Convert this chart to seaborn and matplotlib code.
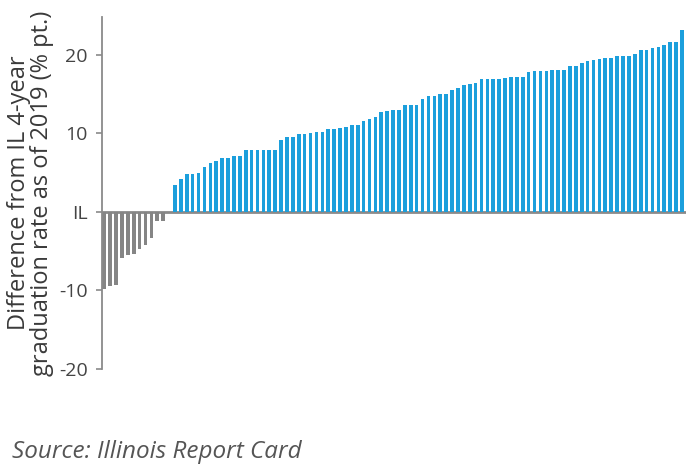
import pandas as pd
import seaborn as sns
import matplotlib.pyplot as plt

# Difference from IL 4-year graduation rate (pct. points), sorted
below_il = [-9.8, -9.4, -9.3, -5.9, -5.5, -5.3, -4.7, -4.2, -3.3, -1.1, -1.1, 0.0]
above_il = [3.4, 4.2, 4.8, 4.8, 4.9, 5.7, 6.2, 6.5, 6.8, 6.8,
            7.1, 7.1, 7.9, 7.9, 7.9, 7.9, 7.9, 7.9,
            9.1, 9.5, 9.5, 9.9, 9.9, 10.0, 10.2, 10.2, 10.5, 10.5,
            10.7, 10.8, 11.0, 11.0, 11.6, 11.8, 12.1, 12.7, 12.9, 13.0,
            13.0, 13.6, 13.6, 13.6, 14.4, 14.7, 14.7, 15.0, 15.0, 15.5,
            15.8, 16.1, 16.3, 16.4, 16.9, 16.9, 16.9, 16.9,
            17.0, 17.2, 17.2, 17.2, 17.8, 17.9, 17.9, 17.9, 18.1, 18.1,
            18.1, 18.6, 18.6, 18.9, 19.2, 19.3, 19.5, 19.6, 19.6, 19.8,
            19.9, 19.9, 20.1, 20.6, 20.6, 20.9, 21.0, 21.2, 21.6, 21.6,
            23.1]
tick_values = [-20, -10, 0, 10, 20]
tick_labels = ["-20", "-10", "IL", "10", "20"]

diff = below_il + above_il
df = pd.DataFrame({
    "school": range(len(diff)),
    "diff": diff,
    "group": ["below"] * len(below_il) + ["above"] * len(above_il),
})

sns.set_style("white")
plt.rcParams["font.family"] = ["Open Sans", "DejaVu Sans"]

fig = plt.figure(figsize=(6.93, 4.66), dpi=100)
ax = fig.add_axes([0.147, 0.208, 0.843, 0.7555])

ax.axhline(0, color="#8a8a8a", lw=2, zorder=1)
sns.barplot(data=df, x="school", y="diff", hue="group",
            palette={"below": "#858585", "above": "#1c9fdc"},
            saturation=1, linewidth=0, dodge=False, width=0.62,
            legend=False, ax=ax, zorder=2)

ax.set_xlim(-0.4, len(diff) - 0.3)
ax.set_ylim(-20, 24.8)
ax.set_yticks(tick_values)
ax.set_yticklabels(tick_labels)
ax.set_xticks([])
ax.set_xlabel("")
ax.set_ylabel("Difference from IL 4-year\ngraduation rate as of 2019 (% pt.)",
              fontsize=17, color="#3a3a3a", labelpad=4, linespacing=0.95)

for side in ["top", "right", "bottom"]:
    ax.spines[side].set_visible(False)
ax.spines["left"].set_color("#8a8a8a")
ax.spines["left"].set_linewidth(1.3)
ax.tick_params(axis="y", left=True, length=4, width=1.2, color="#8a8a8a",
               labelsize=14, labelcolor="#444444", pad=6)

fig.text(0.017, 0.018, "Source: Illinois Report Card", fontsize=17.5,
         style="italic", color="#555555")

fig.savefig("out.png", dpi=100)
